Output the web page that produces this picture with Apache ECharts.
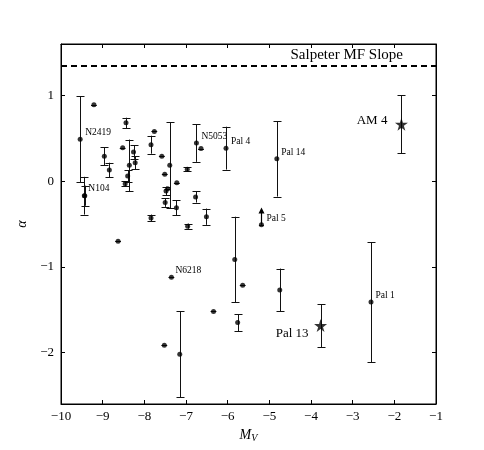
<!DOCTYPE html>
<html>
<head>
<meta charset="utf-8">
<script src="https://cdn.jsdelivr.net/npm/echarts@6/dist/echarts.min.js"></script>
<style>
  html, body { margin: 0; padding: 0; background: #fff; }
  #chart { width: 484px; height: 450px; }
</style>
</head>
<body>
<div id="chart"></div>
<script>
// clusters: absolute magnitude M_V vs mass function slope alpha
var mv    = [-9.54, -9.21, -9.44, -9.43, -8.96, -8.84, -8.44, -8.52, -8.36, -8.40, -8.46, -8.26, -8.22,
             -7.84, -7.76, -7.58, -7.39, -7.51, -7.48, -7.44, -7.50, -7.22, -7.23, -6.97, -7.84, -6.96,
             -6.75, -6.64, -6.77, -6.51, -6.04, -8.63, -5.83, -7.35, -5.64, -6.34, -5.76, -7.52, -7.15,
             -4.82, -2.56, -4.75, -5.19];
var alpha = [0.49, 0.89, -0.17, -0.17, 0.29, 0.13, 0.68, 0.39, 0.185, 0.06, -0.03, 0.34, 0.215,
             0.425, 0.58, 0.29, 0.185, 0.08, -0.115, -0.09, -0.25, -0.02, -0.31, 0.14, -0.43, -0.525,
             0.445, 0.38, -0.185, -0.415, 0.385, -0.70, -0.915, -1.12, -1.215, -1.52, -1.65, -1.915, -2.02,
             0.26, -1.41, -1.27, -0.51];
var alphaErr = [0.50, 0, 0.22, 0.117, 0.105, 0.085, 0.06, 0, 0.30, 0.07, 0.03, 0.08, 0.076,
                0.105, 0, 0, 0.50, 0, 0.05, 0, 0.05, 0, 0.09, 0.025, 0.04, 0.03,
                0.22, 0, 0.065, 0.095, 0.25, 0, 0.50, 0, 0, 0, 0.10, 0, 0.50,
                0.44, 0.70, 0.25, 0];
var mvErr = [0, 0.07, 0, 0, 0, 0, 0, 0.07, 0, 0, 0, 0, 0,
             0, 0.07, 0.07, 0, 0.07, 0, 0.07, 0, 0.07, 0, 0, 0, 0,
             0, 0.07, 0, 0, 0, 0.07, 0, 0.07, 0.07, 0.07, 0, 0.07, 0,
             0, 0, 0, 0.06];
var names = ['N2419', '', 'N104', '', '', '', '', '', '', '', '', '', '',
             '', '', '', '', '', '', '', '', '', '', '', '', '',
             'N5053', '', '', '', 'Pal 4', '', '', 'N6218', '', '', '', '', '',
             'Pal 14', 'Pal 1', '', 'Pal 5'];

// star symbols
var starMv = [-1.83, -3.77];
var starAlpha = [0.665, -1.685];
var starErr = [0.34, 0.25];
var starNames = ['AM 4', 'Pal 13'];

// lower limit (arrow)
var limitMv = [-5.19];
var limitFrom = [-0.51];
var limitTo = [-0.32];

var salpeterSlope = 1.35;
var xTicks = [-10, -9, -8, -7, -6, -5, -4, -3, -2, -1];
var yTicks = [-2, -1, 0, 1];

// label placement (px from the point)
var labelOffset = {
  'N2419': [5, -7], 'N104': [4, -7], 'N5053': [5, -7], 'Pal 4': [5, -6.5],
  'Pal 14': [4.5, -6.3], 'Pal 1': [4.5, -6.6], 'Pal 5': [5, -6], 'N6218': [4, -7],
  'AM 4': [-14, -4], 'Pal 13': [-12, 8]
};

var serif = '"Liberation Serif", "DejaVu Serif", serif';
function fmt(v) { return v < 0 ? '\u2212' + Math.abs(v) : String(v); }

function crisp(v) { return Math.round(v) + 0.5; }

function renderErr(params, api) {
  var x = api.value(0), y = api.value(1), ey = api.value(2), ex = api.value(3);
  var c = api.coord([x, y]);
  var st = { stroke: '#111', lineWidth: 1 };
  var ch = [];
  var cx = crisp(c[0]);
  if (ey > 0) {
    var t = api.coord([x, y + ey])[1], b = api.coord([x, y - ey])[1];
    ch.push({ type: 'line', shape: { x1: cx, y1: t, x2: cx, y2: b }, style: st });
    ch.push({ type: 'line', shape: { x1: cx - 4, y1: crisp(t), x2: cx + 4, y2: crisp(t) }, style: st });
    ch.push({ type: 'line', shape: { x1: cx - 4, y1: crisp(b), x2: cx + 4, y2: crisp(b) }, style: st });
  }
  if (ex > 0) {
    var l = api.coord([x - ex, y])[0], r = api.coord([x + ex, y])[0];
    ch.push({ type: 'line', shape: { x1: l, y1: crisp(c[1]), x2: r, y2: crisp(c[1]) }, style: st });
  }
  return { type: 'group', children: ch };
}

function renderArrow(params, api) {
  var x = api.value(0);
  var p0 = api.coord([x, api.value(1)]);
  var p1 = api.coord([x, api.value(2)]);
  var cx = crisp(p0[0]);
  return { type: 'group', children: [
    { type: 'line', shape: { x1: cx, y1: p0[1], x2: cx, y2: p1[1] + 3 }, style: { stroke: '#000', lineWidth: 1.2 } },
    { type: 'polygon', shape: { points: [[cx, p1[1] - 1], [cx - 3, p1[1] + 5], [cx + 3, p1[1] + 5]] }, style: { fill: '#000' } }
  ]};
}

function renderLabel(params, api) {
  var name = labelData[params.dataIndex][2];
  var big = name === 'AM 4' || name === 'Pal 13';
  var c = api.coord([api.value(0), api.value(1)]);
  var off = labelOffset[name] || [5, -6];
  return {
    type: 'text', x: c[0] + off[0], y: c[1] + off[1],
    style: {
      text: name, fill: '#000', font: (big ? '13px ' : '9.5px ') + serif,
      align: off[0] < 0 ? 'right' : 'left', verticalAlign: 'middle'
    }
  };
}

var errData = mv.map(function (v, i) { return [v, alpha[i], alphaErr[i], mvErr[i]]; })
  .concat(starMv.map(function (v, i) { return [v, starAlpha[i], starErr[i], 0]; }));
var dotData = mv.map(function (v, i) { return [v, alpha[i]]; });
var starData = starMv.map(function (v, i) { return [v, starAlpha[i]]; });
var arrowData = limitMv.map(function (v, i) { return [v, limitFrom[i], limitTo[i]]; });
var labelData = [];
mv.forEach(function (v, i) { if (names[i]) labelData.push([v, alpha[i], names[i]]); });
starMv.forEach(function (v, i) { labelData.push([v, starAlpha[i], starNames[i]]); });

function axisLine() { return { show: true, onZero: false, lineStyle: { color: '#000', width: 1 } }; }
function ticks(extra) {
  return Object.assign({ show: true, inside: true, length: 4, lineStyle: { color: '#000', width: 1 } }, extra || {});
}
function blank() { return ''; }
var labelStyle = { color: '#000', fontFamily: serif, fontSize: 13 };

var chart = echarts.init(document.getElementById('chart'), null, { renderer: 'canvas' });
chart.setOption({
  animation: false,
  backgroundColor: '#fff',
  grid: { left: 61, right: 48, top: 44, bottom: 46, containLabel: false,
          show: true, borderColor: '#000', borderWidth: 1, backgroundColor: 'transparent' },
  xAxis: [{
    type: 'value', min: -10, max: -1, interval: 1, position: 'bottom',
    axisLine: axisLine(), axisTick: ticks(), splitLine: { show: false },
    axisLabel: Object.assign({ formatter: fmt, margin: 6 }, labelStyle),
    name: '{m|M}{v|V}', nameLocation: 'middle', nameGap: 23,
    nameTextStyle: { rich: {
      m: { fontFamily: serif, fontSize: 14, fontStyle: 'italic', color: '#000' },
      v: { fontFamily: serif, fontSize: 10, fontStyle: 'italic', color: '#000', verticalAlign: 'bottom', padding: [6, 0, 0, 0] }
    } }
  }, {
    type: 'value', min: -10, max: -1, interval: 1, position: 'top',
    axisLine: axisLine(), axisTick: ticks(), splitLine: { show: false },
    axisLabel: { show: true, formatter: blank }
  }],
  yAxis: [{
    type: 'value', min: -2.6, max: 1.6, position: 'left',
    axisLine: axisLine(), splitLine: { show: false },
    axisTick: ticks({ customValues: yTicks }),
    axisLabel: Object.assign({ customValues: yTicks, formatter: fmt, margin: 7 }, labelStyle),
    name: '\u03b1', nameLocation: 'middle', nameGap: 28, nameRotate: 90,
    nameTextStyle: { fontFamily: serif, fontSize: 14, fontStyle: 'italic', color: '#000' }
  }, {
    type: 'value', min: -2.6, max: 1.6, position: 'right',
    axisLine: axisLine(), splitLine: { show: false },
    axisTick: ticks({ customValues: yTicks }),
    axisLabel: { show: true, customValues: yTicks, formatter: blank }
  }],
  series: [
    {
      type: 'custom', renderItem: renderErr, data: errData, encode: { x: 0, y: 1 }, z: 2, silent: true,
      markLine: {
        silent: true, symbol: 'none',
        lineStyle: { color: '#000', width: 2, type: [6, 4] },
        label: {
          show: true, position: 'insideEndTop', distance: [33, 3],
          formatter: 'Salpeter MF Slope', color: '#000', fontFamily: serif, fontSize: 15
        },
        data: [{ yAxis: salpeterSlope }]
      }
    },
    { type: 'custom', renderItem: renderArrow, data: arrowData, encode: { x: 0, y: 1 }, z: 2, silent: true },
    {
      type: 'scatter', data: dotData, symbol: 'circle', symbolSize: 5, z: 3,
      itemStyle: { color: '#000' }
    },
    {
      type: 'scatter', data: starData, z: 3,
      symbol: 'path://M50,0 L61,35 L98,35 L68,57 L79,91 L50,70 L21,91 L32,57 L2,35 L39,35 Z',
      symbolSize: 13, itemStyle: { color: '#000' }
    },
    { type: 'custom', renderItem: renderLabel, data: labelData, encode: { x: 0, y: 1 }, z: 4, silent: true }
  ]
});
</script>
</body>
</html>
